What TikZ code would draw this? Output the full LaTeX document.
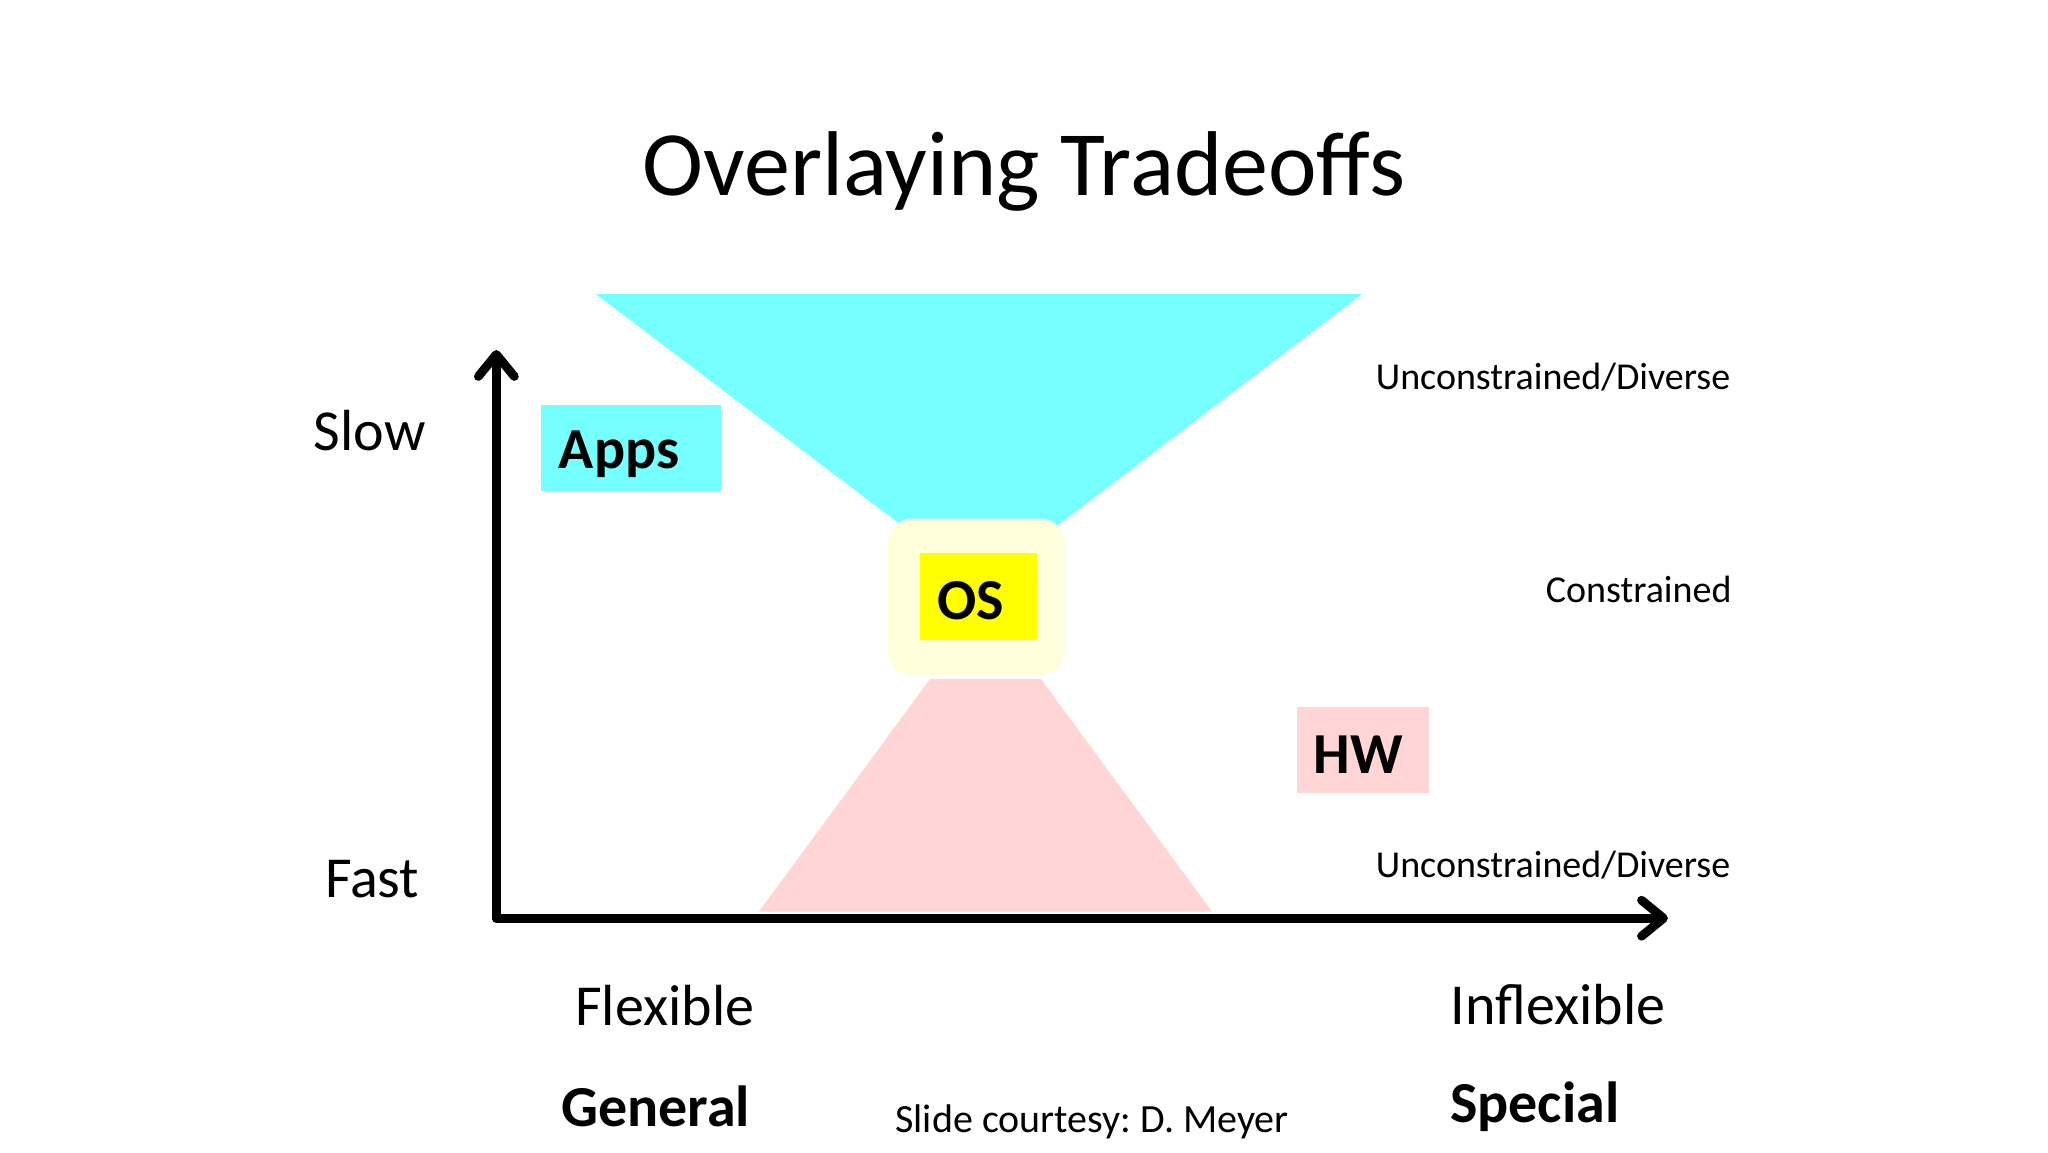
\documentclass[tikz,border=0pt]{standalone}
\usepackage{fontspec}
\setmainfont{Carlito}
\usetikzlibrary{arrows.meta}
\definecolor{appcyan}{RGB}{117,255,255}
\definecolor{hwpink}{RGB}{255,213,213}
\definecolor{osyellow}{RGB}{255,255,0}
\definecolor{oslight}{RGB}{255,255,220}
\frenchspacing
\tikzset{
  lbl/.style={inner sep=0pt, font=\fontsize{29}{34}\selectfont},
  boldlbl/.style={inner sep=0pt, font=\fontsize{29}{34}\selectfont\bfseries},
  smalllbl/.style={inner sep=0pt, font=\fontsize{19}{23}\selectfont},
  axis/.style={line width=4.4pt, line cap=round, line join=round, -{Straight Barb[length=11pt,width=18pt,line cap=round,line join=round]}},
}
\begin{document}
\begin{tikzpicture}[x=0.65306pt,y=-0.65306pt]
\useasboundingbox[fill=white] (0,0) rectangle (1568,882);
% title
\node[inner sep=0pt, font=\fontsize{46}{54}\selectfont] (title) at (784,131) {Overlaying Tradeoffs};
% funnels
\fill[appcyan] (456,225) -- (1043,225) -- (810,402) -- (690,402) -- cycle;
\fill[hwpink] (712,520) -- (797,520) -- (928,698) -- (581,698) -- cycle;
% OS
\node[fill=oslight, rounded corners=12pt, minimum width=135*0.65306pt, minimum height=120*0.65306pt, inner sep=0pt] (osbg) at (747.5,457) {};
\node[fill=osyellow, minimum width=90*0.65306pt, minimum height=67*0.65306pt, inner sep=0pt] (osbox) at (749,456.5) {};
\node[boldlbl] (os) at (743,460) {OS};
% Apps and HW
\node[fill=appcyan, minimum width=138*0.65306pt, minimum height=66*0.65306pt, inner sep=0pt] (appsbox) at (483,343) {};
\node[boldlbl] (apps) at (474,348) {Apps};
\node[fill=hwpink, minimum width=101*0.65306pt, minimum height=66*0.65306pt, inner sep=0pt] (hwbox) at (1043.5,574) {};
\node[boldlbl] (hw) at (1040,578) {HW};
% axes
\coordinate (origin) at (380,703);
\coordinate (ytip) at (380,268);
\coordinate (xtip) at (1277,703);
\draw[axis] (origin) -- (ytip);
\draw[axis] (origin) -- (xtip);
% axis labels
\node[lbl] (slow) at (283,330) {Slow};
\node[lbl] (fast) at (285,673) {Fast};
\node[lbl] (flex) at (509,770) {Flexible};
\node[lbl] (inflex) at (1193,769) {Inflexible};
\node[boldlbl] (general) at (502,847) {General};
\node[boldlbl] (special) at (1175,847) {Special};
\node[smalllbl, anchor=east] (ud1) at (1325,289) {Unconstrained/Diverse};
\node[smalllbl, anchor=east] (con) at (1326,451) {Constrained};
\node[smalllbl, anchor=east] (ud2) at (1325,662) {Unconstrained/Diverse};
\node[inner sep=0pt, font=\fontsize{20}{24}\selectfont] (credit) at (836,859) {Slide courtesy: D. Meyer};
\end{tikzpicture}
\end{document}
